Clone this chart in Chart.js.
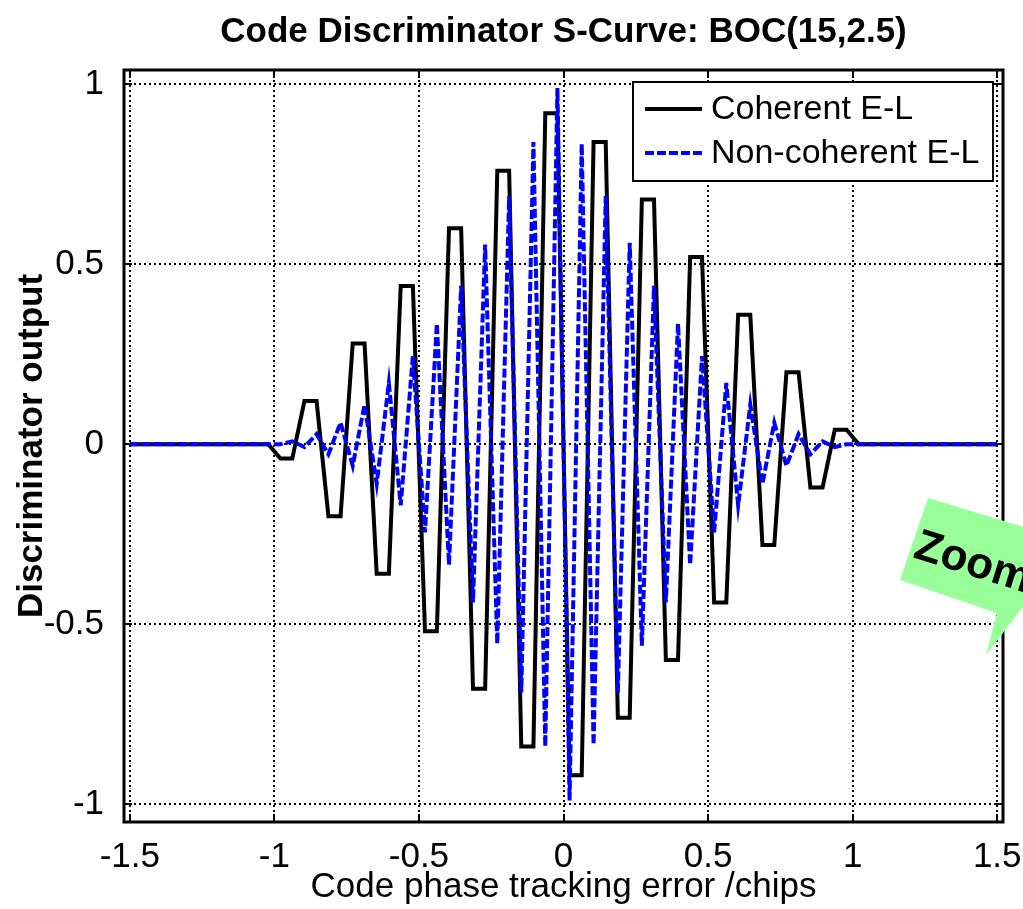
<!DOCTYPE html>
<html>
<head>
<meta charset="utf-8">
<title>Code Discriminator S-Curve: BOC(15,2.5)</title>
<script src="https://cdn.jsdelivr.net/npm/chart.js@4.4.1/dist/chart.umd.min.js"></script>
<style>
  html, body { margin: 0; padding: 0; background: #fff; }
  canvas { display: block; }
</style>
</head>
<body>
<canvas id="sCurve" width="1023" height="909"></canvas>
<script>
// --- data ---
// code phase error (chips) at the kinks of both curves
const codePhase = [-1.5, -1.021, -0.979, -0.938, -0.896, -0.854, -0.813, -0.771, -0.729, -0.688, -0.646,
  -0.604, -0.563, -0.521, -0.479, -0.438, -0.396, -0.354, -0.313, -0.271, -0.229, -0.188, -0.146, -0.104,
  -0.063, -0.021, 0.021, 0.063, 0.104, 0.146, 0.188, 0.229, 0.271, 0.313, 0.354, 0.396, 0.438, 0.479,
  0.521, 0.563, 0.604, 0.646, 0.688, 0.729, 0.771, 0.813, 0.854, 0.896, 0.938, 0.979, 1.021, 1.5];

const coherentOut = [0, 0, -0.04, -0.04, 0.12, 0.12, -0.20, -0.20, 0.28, 0.28, -0.36,
  -0.36, 0.44, 0.44, -0.52, -0.52, 0.60, 0.60, -0.68, -0.68, 0.76, 0.76, -0.84, -0.84,
  0.92, 0.92, -0.92, -0.92, 0.84, 0.84, -0.76, -0.76, 0.68, 0.68, -0.60, -0.60, 0.52, 0.52,
  -0.44, -0.44, 0.36, 0.36, -0.28, -0.28, 0.20, 0.20, -0.12, -0.12, 0.04, 0.04, 0, 0];

const nonCoherentOut = [0, 0, 0, 0.008, -0.008, 0.028, -0.028, 0.06, -0.06, 0.11, -0.11,
  0.17, -0.17, 0.245, -0.245, 0.335, -0.335, 0.44, -0.44, 0.555, -0.555, 0.69, -0.69, 0.84,
  -0.84, 0.99, -0.99, 0.835, -0.835, 0.69, -0.69, 0.56, -0.56, 0.44, -0.44, 0.335, -0.335, 0.245,
  -0.245, 0.17, -0.17, 0.11, -0.11, 0.06, -0.06, 0.028, -0.028, 0.008, -0.008, 0, 0, 0];

const xTicks = [-1.5, -1, -0.5, 0, 0.5, 1, 1.5];
const yTicks = [-1, -0.5, 0, 0.5, 1];

const FONT = "'Liberation Sans', Arial, Helvetica, sans-serif";

// dotted grid under the curves, inward ticks and box over them (matlab look)
const axesFrame = {
  id: 'axesFrame',
  beforeDatasetsDraw(chart) {
    const { ctx, chartArea: a, scales: { x, y } } = chart;
    ctx.save();
    ctx.strokeStyle = '#000';
    ctx.lineWidth = 2;
    ctx.setLineDash([2, 3]);
    ctx.beginPath();
    xTicks.forEach(v => {
      const px = Math.round(x.getPixelForValue(v));
      ctx.moveTo(px, a.top);
      ctx.lineTo(px, a.bottom);
    });
    yTicks.forEach(v => {
      const py = Math.round(y.getPixelForValue(v));
      ctx.moveTo(a.left, py);
      ctx.lineTo(a.right, py);
    });
    ctx.stroke();
    ctx.restore();
  },
  afterDatasetsDraw(chart) {
    const { ctx, chartArea: a, scales: { x, y } } = chart;
    const len = 8;
    ctx.save();
    ctx.strokeStyle = '#000';
    ctx.setLineDash([]);
    ctx.lineWidth = 2;
    ctx.beginPath();
    xTicks.forEach(v => {
      const px = Math.round(x.getPixelForValue(v));
      ctx.moveTo(px, a.bottom); ctx.lineTo(px, a.bottom - len);
      ctx.moveTo(px, a.top); ctx.lineTo(px, a.top + len);
    });
    yTicks.forEach(v => {
      const py = Math.round(y.getPixelForValue(v));
      ctx.moveTo(a.left, py); ctx.lineTo(a.left + len, py);
      ctx.moveTo(a.right, py); ctx.lineTo(a.right - len, py);
    });
    ctx.stroke();
    ctx.lineWidth = 3;
    ctx.strokeRect(a.left, a.top, a.right - a.left, a.bottom - a.top);
    ctx.restore();
  }
};

// legend inside the axes, top right, with a frame
const boxedLegend = {
  id: 'boxedLegend',
  afterDraw(chart) {
    const { ctx, chartArea: a } = chart;
    const left = a.right - 370, top = a.top + 12, w = 360, h = 99;
    ctx.save();
    ctx.fillStyle = '#fff';
    ctx.fillRect(left, top, w, h);
    ctx.strokeStyle = '#000';
    ctx.lineWidth = 2;
    ctx.setLineDash([]);
    ctx.strokeRect(left, top, w, h);
    ctx.font = '34px ' + FONT;
    ctx.textBaseline = 'middle';
    ctx.textAlign = 'left';
    chart.data.datasets.forEach((ds, i) => {
      const rowY = top + 27 + i * 44;
      ctx.strokeStyle = ds.borderColor;
      ctx.lineWidth = ds.borderWidth;
      ctx.setLineDash(ds.borderDash || []);
      ctx.beginPath();
      ctx.moveTo(left + 12, rowY);
      ctx.lineTo(left + 69, rowY);
      ctx.stroke();
      ctx.fillStyle = '#000';
      ctx.fillText(ds.label, left + 78, rowY + 1);
    });
    ctx.restore();
  }
};

// green "Zoom" speech bubble, cut off by the right edge
const zoomCallout = {
  id: 'zoomCallout',
  afterDraw(chart) {
    const { ctx } = chart;
    const shape = [[928, 498], [1110, 553], [1040, 585], [986, 655], [997, 613], [900, 580]];
    ctx.save();
    ctx.fillStyle = '#99ff99';
    ctx.beginPath();
    shape.forEach(([px, py], i) => (i ? ctx.lineTo(px, py) : ctx.moveTo(px, py)));
    ctx.closePath();
    ctx.fill();
    ctx.translate(912, 557);
    ctx.rotate(17.5 * Math.PI / 180);
    ctx.fillStyle = '#000';
    ctx.font = 'bold 44px ' + FONT;
    ctx.textBaseline = 'alphabetic';
    ctx.textAlign = 'left';
    ctx.fillText('Zoom', 0, 0);
    ctx.restore();
  }
};

new Chart(document.getElementById('sCurve'), {
  type: 'scatter',
  data: {
    datasets: [
      {
        label: 'Coherent E-L',
        data: codePhase.map((x, i) => ({ x, y: coherentOut[i] })),
        borderColor: '#000000',
        borderWidth: 4,
        showLine: true,
        pointRadius: 0,
        pointHoverRadius: 0,
        order: 2
      },
      {
        label: 'Non-coherent E-L',
        data: codePhase.map((x, i) => ({ x, y: nonCoherentOut[i] })),
        borderColor: '#0000ff',
        borderWidth: 4,
        borderDash: [9, 3],
        showLine: true,
        pointRadius: 0,
        pointHoverRadius: 0,
        order: 1
      }
    ]
  },
  options: {
    responsive: false,
    animation: false,
    layout: { padding: { left: 0, right: 20, top: 0, bottom: 0 } },
    plugins: {
      legend: { display: false },
      tooltip: { enabled: false },
      title: {
        display: true,
        text: 'Code Discriminator S-Curve: BOC(15,2.5)',
        fullSize: false,
        color: '#000',
        font: { family: FONT, size: 35, weight: 'bold', lineHeight: 1.2 },
        padding: { top: 11, bottom: 17 }
      }
    },
    scales: {
      x: {
        type: 'linear',
        min: -1.52,
        max: 1.52,
        grid: { display: false },
        border: { display: false },
        afterBuildTicks: s => { s.ticks = xTicks.map(v => ({ value: v })); },
        afterFit: s => { s.height = 87; s.paddingLeft = 0; s.paddingRight = 0; },
        ticks: {
          color: '#000',
          font: { family: FONT, size: 35, lineHeight: 1.2 },
          padding: 6,
          maxRotation: 0,
          autoSkip: false,
          callback: v => String(v)
        },
        title: {
          display: true,
          text: 'Code phase tracking error /chips',
          color: '#000',
          font: { family: FONT, size: 35, lineHeight: 1.2 },
          padding: { top: 0, bottom: 1 }
        }
      },
      y: {
        type: 'linear',
        min: -1.05,
        max: 1.04,
        grid: { display: false },
        border: { display: false },
        afterBuildTicks: s => { s.ticks = yTicks.map(v => ({ value: v })); },
        afterFit: s => { s.width = 124; s.paddingTop = 0; s.paddingBottom = 0; },
        ticks: {
          color: '#000',
          font: { family: FONT, size: 35, lineHeight: 1.2 },
          padding: 12,
          autoSkip: false,
          callback: v => String(v)
        },
        title: {
          display: true,
          text: 'Discriminator output',
          color: '#000',
          font: { family: FONT, size: 35, weight: 'bold', lineHeight: 1.2 },
          padding: { top: 11, bottom: 0 }
        }
      }
    }
  },
  plugins: [axesFrame, boxedLegend, zoomCallout]
});
</script>
</body>
</html>
